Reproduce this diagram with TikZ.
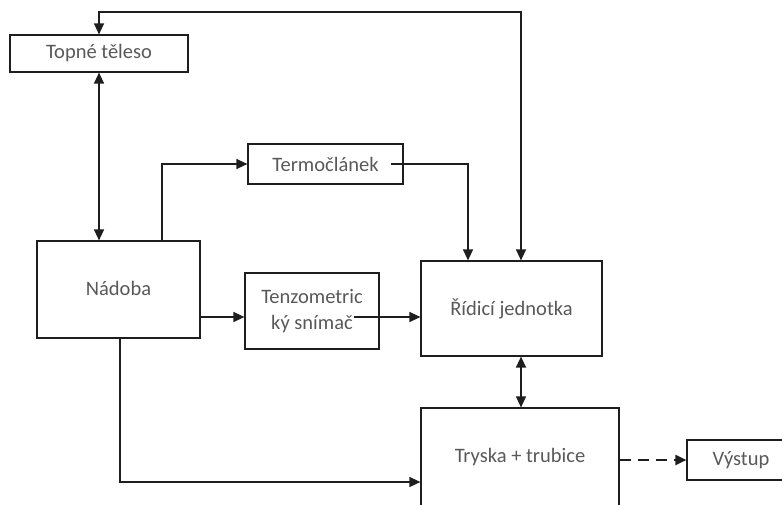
\documentclass[tikz,border=0pt]{standalone}
\usepackage{fontspec}
\setmainfont{Carlito}
\usetikzlibrary{arrows.meta,calc}
\definecolor{txt}{RGB}{89,89,89}
\definecolor{ln}{RGB}{30,30,30}
\begin{document}
\begin{tikzpicture}[x=1pt,y=-1pt,
  blk/.style={draw=ln,line width=1.2pt,fill=white,text=txt,inner sep=0pt,align=center,font=\fontsize{20.5}{26}\selectfont},
  conn/.style={draw=ln,line width=1.4pt,-{Triangle[length=11pt,width=10pt]}},
  dconn/.style={draw=ln,line width=1.4pt,{Triangle[length=11pt,width=10pt]}-{Triangle[length=11pt,width=10pt]}},
  dashconn/.style={draw=ln,line width=2pt,dash pattern=on 11pt off 7pt,-{Triangle[length=11pt,width=10pt]}}]
\useasboundingbox (0,0) rectangle (782,504);
\clip (0,0) rectangle (782,504);
\node[blk,minimum width=178pt,minimum height=37pt] (topne) at (99,53.5) {Topné těleso};
\node[blk,minimum width=163pt,minimum height=97pt] (nadoba) at (118.5,289.5) {\raisebox{2pt}{Nádoba}};
\node[blk,minimum width=155pt,minimum height=40pt] (termo) at (325.5,164) {Termočlánek};
\node[blk,minimum width=134pt,minimum height=76pt] (tenzo) at (312,311) {Tenzometric\\ký snímač};
\node[blk,minimum width=181pt,minimum height=95pt] (ridici) at (511.5,308.5) {Řídicí jednotka};
\node[blk,minimum width=198pt,minimum height=98pt] (tryska) at (520,457) {Tryska + trubice};
\node[blk,minimum width=108pt,minimum height=40pt] (vystup) at (741,460) {Výstup};
% connectors
\coordinate (rtop) at ([xshift=9.5pt]ridici.north);
\coordinate (rbot) at ([xshift=9.5pt]ridici.south);
\coordinate (topright) at (rtop |- 0,12);
\coordinate (topleft) at (topne.north |- 0,12);
\coordinate (nout) at ([yshift=-27.5pt]nadoba.east);
\coordinate (tzout) at ([xshift=-26pt,yshift=-6pt]tenzo.east);
\coordinate (trin) at ([yshift=-25pt]tryska.west);
\draw[dconn] (rtop) -- (topright) -- (topleft) -- (topne.north);
\draw[dconn] (topne.south) -- (topne.south |- nadoba.north);
\draw[conn] ([xshift=43.5pt]nadoba.north) |- (termo.west);
\draw[conn] ([xshift=-13pt]termo.east) -| ([xshift=-43.5pt]ridici.north);
\draw[conn] (nout) -- (tenzo.west |- nout);
\draw[conn] (tzout) -- (ridici.west |- tzout);
\draw[dconn] (rbot) -- (rbot |- tryska.north);
\draw[conn] ([xshift=1.5pt]nadoba.south) |- (trin);
\draw[dashconn] (tryska.east |- vystup.west) -- (vystup.west);
\end{tikzpicture}
\end{document}
